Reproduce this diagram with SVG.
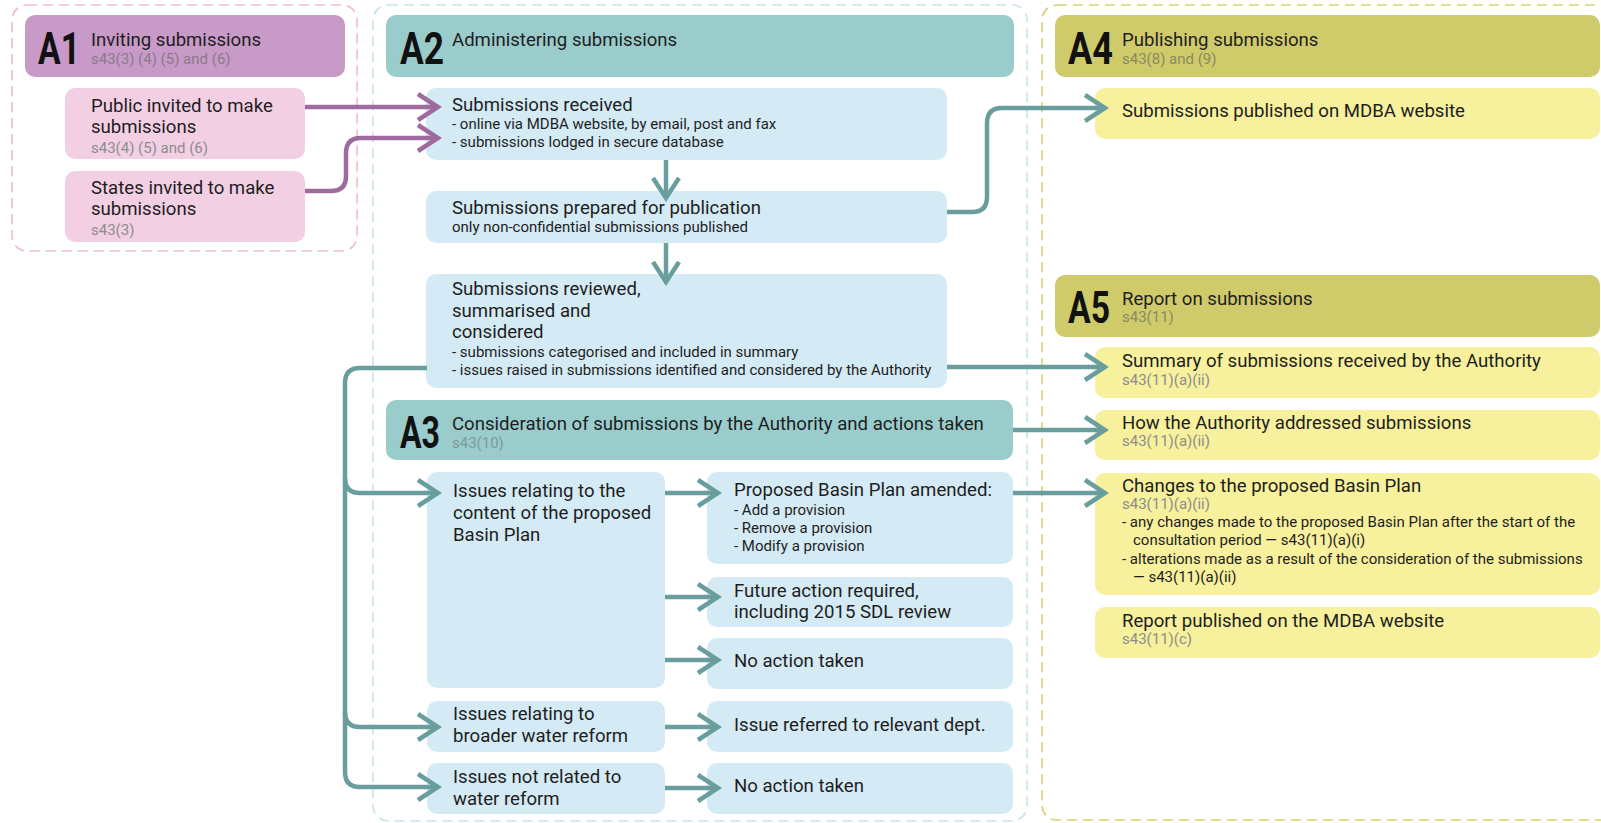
<svg xmlns="http://www.w3.org/2000/svg" width="1601" height="823" viewBox="0 0 1601 823">
<style>
.frame{fill:none;stroke-width:1.6;stroke-dasharray:10 6}
text{font-family:Roboto,"Liberation Sans",sans-serif;fill:#1e1e1e}
.t{font-size:18.6px}
.d{font-size:15px}
.r{font-size:15px;fill:#8d8d8d}
.big{font-size:45px;font-weight:700;fill:#111}
.hA1{fill:#c89ac7}
.pink{fill:#f3cfe4}
.hA2{fill:#9acccc}
.blue{fill:#d4eaf4}
.hA4{fill:#cfcb6b}
.yel{fill:#f7f09c}
.teal{fill:none;stroke:#6a9e9e;stroke-width:4.5;marker-end:url(#mt)}
.purp{fill:none;stroke:#9f6a9e;stroke-width:4.5;marker-end:url(#mp)}
</style>
<defs>
<marker id="mt" markerUnits="userSpaceOnUse" viewBox="-4 -17 28 34" refX="20" refY="0" markerWidth="28" markerHeight="34" orient="auto">
<path d="M0,-13 L20,0 L0,13" fill="none" stroke="#6a9e9e" stroke-width="4.5"/>
</marker>
<marker id="mp" markerUnits="userSpaceOnUse" viewBox="-4 -17 28 34" refX="20" refY="0" markerWidth="28" markerHeight="34" orient="auto">
<path d="M0,-13 L20,0 L0,13" fill="none" stroke="#9f6a9e" stroke-width="4.5"/>
</marker>
</defs>
<rect width="1601" height="823" fill="#ffffff"/>

<g id="frames">
<rect class="frame" x="12" y="5" width="345" height="246" rx="15" stroke="#f1bccf"/>
<rect class="frame" x="373" y="5" width="654" height="816" rx="15" stroke="#c6e3eb"/>
<rect class="frame" x="1042" y="5" width="600" height="815" rx="15" stroke="#d8d175"/>
</g>

<g id="A1">
<rect class="hA1" x="25" y="15" width="320" height="62" rx="10"/>
<text class="big" x="38" y="64" textLength="42" lengthAdjust="spacingAndGlyphs">A1</text>
<text class="t" x="91" y="46">Inviting submissions</text>
<text class="r" x="91" y="64" style="fill:#8a7a8a">s43(3) (4) (5) and (6)</text>
</g>
<g id="public">
<rect class="pink" x="65" y="88" width="240" height="71" rx="10"/>
<text class="t" x="91" y="112">Public invited to make</text>
<text class="t" x="91" y="133">submissions</text>
<text class="r" x="91" y="153">s43(4) (5) and (6)</text>
</g>
<g id="states">
<rect class="pink" x="65" y="171" width="240" height="71" rx="10"/>
<text class="t" x="91" y="194">States invited to make</text>
<text class="t" x="91" y="215">submissions</text>
<text class="r" x="91" y="235">s43(3)</text>
</g>

<g id="A2">
<rect class="hA2" x="386" y="15" width="628" height="62" rx="10"/>
<text class="big" x="400" y="64" textLength="44" lengthAdjust="spacingAndGlyphs">A2</text>
<text class="t" x="452" y="46">Administering submissions</text>
</g>
<g id="received">
<rect class="blue" x="426" y="88" width="521" height="72" rx="10"/>
<text class="t" x="452" y="111">Submissions received</text>
<text class="d" x="452" y="129">- online via MDBA website, by email, post and fax</text>
<text class="d" x="452" y="147">- submissions lodged in secure database</text>
</g>
<g id="prepared">
<rect class="blue" x="426" y="191" width="521" height="52" rx="10"/>
<text class="t" x="452" y="214">Submissions prepared for publication</text>
<text class="d" x="452" y="232">only non-confidential submissions published</text>
</g>
<g id="reviewed">
<rect class="blue" x="426" y="274" width="521" height="114" rx="10"/>
<text class="t" x="452" y="295">Submissions reviewed,</text>
<text class="t" x="452" y="317">summarised and</text>
<text class="t" x="452" y="338">considered</text>
<text class="d" x="452" y="357">- submissions categorised and included in summary</text>
<text class="d" x="452" y="375">- issues raised in submissions identified and considered by the Authority</text>
</g>

<g id="A3">
<rect class="hA2" x="386" y="400" width="627" height="60" rx="10"/>
<text class="big" x="400" y="448" textLength="40" lengthAdjust="spacingAndGlyphs">A3</text>
<text class="t" x="452" y="430">Consideration of submissions by the Authority and actions taken</text>
<text class="r" x="452" y="448" style="fill:#7f9a9a">s43(10)</text>
</g>
<g id="content">
<rect class="blue" x="427" y="472" width="238" height="216" rx="10"/>
<text class="t" x="453" y="497">Issues relating to the</text>
<text class="t" x="453" y="519">content of the proposed</text>
<text class="t" x="453" y="541">Basin Plan</text>
</g>
<g id="amended">
<rect class="blue" x="707" y="472" width="306" height="92" rx="10"/>
<text class="t" x="734" y="496">Proposed Basin Plan amended:</text>
<text class="d" x="734" y="515">- Add a provision</text>
<text class="d" x="734" y="533">- Remove a provision</text>
<text class="d" x="734" y="551">- Modify a provision</text>
</g>
<g id="future">
<rect class="blue" x="707" y="577" width="306" height="50" rx="10"/>
<text class="t" x="734" y="597">Future action required,</text>
<text class="t" x="734" y="618">including 2015 SDL review</text>
</g>
<g id="noaction1">
<rect class="blue" x="707" y="638" width="306" height="51" rx="10"/>
<text class="t" x="734" y="667">No action taken</text>
</g>
<g id="broader">
<rect class="blue" x="427" y="701" width="238" height="51" rx="10"/>
<text class="t" x="453" y="720">Issues relating to</text>
<text class="t" x="453" y="742">broader water reform</text>
</g>
<g id="referred">
<rect class="blue" x="707" y="701" width="306" height="51" rx="10"/>
<text class="t" x="734" y="731">Issue referred to relevant dept.</text>
</g>
<g id="notrelated">
<rect class="blue" x="427" y="763" width="238" height="51" rx="10"/>
<text class="t" x="453" y="783">Issues not related to</text>
<text class="t" x="453" y="805">water reform</text>
</g>
<g id="noaction2">
<rect class="blue" x="707" y="763" width="306" height="51" rx="10"/>
<text class="t" x="734" y="792">No action taken</text>
</g>

<g id="A4">
<rect class="hA4" x="1055" y="15" width="545" height="62" rx="10"/>
<text class="big" x="1068" y="64" textLength="45" lengthAdjust="spacingAndGlyphs">A4</text>
<text class="t" x="1122" y="46">Publishing submissions</text>
<text class="r" x="1122" y="64" style="fill:#8a8a60">s43(8) and (9)</text>
</g>
<g id="published">
<rect class="yel" x="1095" y="88" width="505" height="51" rx="10"/>
<text class="t" x="1122" y="117">Submissions published on MDBA website</text>
</g>

<g id="A5">
<rect class="hA4" x="1055" y="275" width="545" height="62" rx="10"/>
<text class="big" x="1068" y="323" textLength="42" lengthAdjust="spacingAndGlyphs">A5</text>
<text class="t" x="1122" y="305">Report on submissions</text>
<text class="r" x="1122" y="322" style="fill:#8a8a60">s43(11)</text>
</g>
<g id="summary">
<rect class="yel" x="1095" y="347" width="505" height="51" rx="10"/>
<text class="t" x="1122" y="367">Summary of submissions received by the Authority</text>
<text class="r" x="1122" y="385">s43(11)(a)(ii)</text>
</g>
<g id="how">
<rect class="yel" x="1095" y="410" width="505" height="50" rx="10"/>
<text class="t" x="1122" y="429">How the Authority addressed submissions</text>
<text class="r" x="1122" y="446">s43(11)(a)(ii)</text>
</g>
<g id="changes">
<rect class="yel" x="1095" y="473" width="505" height="122" rx="10"/>
<text class="t" x="1122" y="492">Changes to the proposed Basin Plan</text>
<text class="r" x="1122" y="509">s43(11)(a)(ii)</text>
<text class="d" x="1122" y="527">- any changes made to the proposed Basin Plan after the start of the</text>
<text class="d" x="1133" y="545">consultation period — s43(11)(a)(i)</text>
<text class="d" x="1122" y="564">- alterations made as a result of the consideration of the submissions</text>
<text class="d" x="1133" y="582">— s43(11)(a)(ii)</text>
</g>
<g id="report">
<rect class="yel" x="1095" y="607" width="505" height="51" rx="10"/>
<text class="t" x="1122" y="627">Report published on the MDBA website</text>
<text class="r" x="1122" y="644">s43(11)(c)</text>
</g>

<g id="connectors">
<path class="purp" d="M305,107 L438,107"/>
<path class="purp" d="M305,191 L331,191 Q346,191 346,176 L346,153 Q346,138 361,138 L438,138"/>
<path class="teal" d="M666,160 L666,198"/>
<path class="teal" d="M666,243 L666,282"/>
<path class="teal" d="M947,212 L972,212 Q987,212 987,197 L987,123 Q987,108 1002,108 L1105,108"/>
<path class="teal" d="M947,367 L1105,367"/>
<path class="teal" d="M1013,430 L1105,430"/>
<path class="teal" d="M1013,493 L1105,493"/>
<path class="teal" d="M427,368 L360,368 Q345,368 345,383 L345,772 Q345,787 360,787 L438,787"/>
<path class="teal" d="M345,478 Q345,493 360,493 L438,493"/>
<path class="teal" d="M345,712 Q345,727 360,727 L438,727"/>
<path class="teal" d="M665,493 L718,493"/>
<path class="teal" d="M665,597 L718,597"/>
<path class="teal" d="M665,660 L718,660"/>
<path class="teal" d="M665,727 L718,727"/>
<path class="teal" d="M665,788 L718,788"/>
</g>
</svg>
